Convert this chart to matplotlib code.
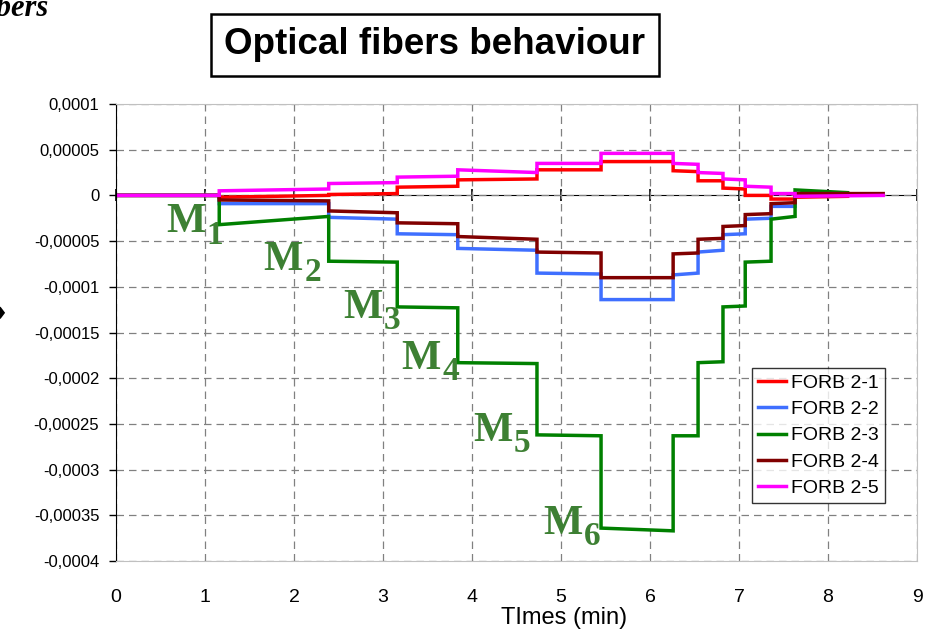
"""
Optical fibers behaviour: strain steps of the FORB 2-x fibers during
the M1..M6 loading sequence (values read off the original chart).
"""

import matplotlib
matplotlib.use("Agg")
import matplotlib.pyplot as plt
from matplotlib.ticker import FuncFormatter, MultipleLocator, NullFormatter

# step boundaries (min); each series has one (start, end) level per step
T_STEPS = [0.0, 1.16, 2.39, 3.16, 3.84, 4.73, 5.45, 6.26, 6.54, 6.82, 7.07, 7.36, 7.63]
T_END_SHORT = 8.22
T_END_LONG = 8.62

# levels in units of 1e-5
FORB_21 = [(0, 0), (-0.2, 0.0), (0.1, 0.2), (0.9, 1.0), (1.7, 1.8), (2.8, 2.8), (3.7, 3.7),
           (2.7, 2.6), (1.6, 1.6), (0.8, 0.7), (0.0, 0.0), (-0.4, -0.4), (-0.2, -0.1)]
FORB_22 = [(0, 0), (-0.9, -0.9), (-2.4, -2.6), (-4.2, -4.3), (-5.8, -6.0), (-8.5, -8.6), (-11.4, -11.4),
           (-8.7, -8.5), (-6.2, -6.0), (-4.3, -4.2), (-2.6, -2.5), (-1.2, -1.2), (0.0, 0.0)]
FORB_23 = [(0, 0), (-3.2, -2.3), (-7.2, -7.3), (-12.2, -12.3), (-18.3, -18.4), (-26.2, -26.3), (-36.4, -36.7),
           (-26.3, -26.3), (-18.3, -18.2), (-12.2, -12.1), (-7.3, -7.2), (-2.6, -2.3), (0.6, 0.3)]
FORB_24 = [(0, 0), (-0.5, -0.6), (-1.7, -1.9), (-3.0, -3.1), (-4.5, -4.8), (-6.2, -6.3), (-9.0, -9.0),
           (-6.4, -6.3), (-4.8, -4.7), (-3.4, -3.3), (-2.1, -2.0), (-0.9, -0.8), (0.2, 0.2)]
FORB_25 = [(0, 0), (0.5, 0.7), (1.3, 1.4), (2.0, 2.1), (2.8, 2.5), (3.5, 3.5), (4.6, 4.6),
           (3.5, 3.4), (2.5, 2.4), (1.8, 1.7), (1.0, 0.9), (0.2, 0.2), (-0.1, 0.0)]

SERIES = [("FORB 2-1", FORB_21, T_END_SHORT, "#ff0000"),
          ("FORB 2-2", FORB_22, T_END_SHORT, "#3f6fff"),
          ("FORB 2-3", FORB_23, T_END_SHORT, "#008000"),
          ("FORB 2-4", FORB_24, T_END_LONG, "#800000"),
          ("FORB 2-5", FORB_25, T_END_LONG, "#ff00ff")]

# load step labels: (subscript, x in min, y in 1e-5)
M_LABELS = [("1", 0.56, -4.05), ("2", 1.66, -8.2), ("3", 2.55, -13.45),
            ("4", 3.21, -19.0), ("5", 4.01, -26.9), ("6", 4.80, -37.0)]
M_COLOR = "#3d8033"


def step_path(levels, t_end):
    bounds = T_STEPS + [t_end]
    xs, ys = [], []
    for i, (a, b) in enumerate(levels):
        xs += [bounds[i], bounds[i + 1]]
        ys += [a * 1e-5, b * 1e-5]
    return xs, ys


def comma_fmt(v, _):
    if abs(v) < 1e-12:
        return "0"
    return f"{v:.5f}".rstrip("0").replace(".", ",")


fig = plt.figure(figsize=(9.34, 6.34), dpi=100)
ax = fig.add_axes([116 / 934, 73 / 634, 801 / 934, 457 / 634])

for name, levels, t_end, color in SERIES:
    xs, ys = step_path(levels, t_end)
    ax.plot(xs, ys, color=color, lw=2.5, label=name, solid_joinstyle="miter")

ax.set_xlim(0, 9)
ax.set_ylim(-0.0004, 0.0001)
ax.xaxis.set_major_locator(MultipleLocator(1))
ax.yaxis.set_major_locator(MultipleLocator(0.00005))
ax.yaxis.set_major_formatter(FuncFormatter(comma_fmt))
ax.grid(True, color="#808080", ls=(0, (6, 4)), lw=0.9)

for side in ("top", "right", "bottom"):
    ax.spines[side].set_color("#c0c0c0")
ax.spines["left"].set_color("black")
ax.tick_params(axis="x", length=0, pad=20, labelsize=14)
ax.tick_params(axis="y", direction="out", length=5, width=1, pad=7, labelsize=12)
for lab in ax.get_xticklabels() + ax.get_yticklabels():
    lab.set_fontfamily("Liberation Sans")

# horizontal axis crosses at zero
zero_ax = ax.secondary_xaxis(0.8)
zero_ax.spines["bottom"].set_color("black")
zero_ax.xaxis.set_major_locator(MultipleLocator(1))
zero_ax.xaxis.set_major_formatter(NullFormatter())
zero_ax.tick_params(direction="inout", length=9, width=1.2,
                    labelbottom=False, labeltop=False)

ax.set_xlabel("TImes (min)", fontsize=17, family="Liberation Sans")
ax.xaxis.set_label_coords(0.56, -0.1)

for sub, x, y in M_LABELS:
    ax.annotate("M", (x, y * 1e-5), fontsize=30, fontweight="bold", family="Liberation Serif",
                color=M_COLOR, ha="left", va="baseline")
    ax.annotate(sub, (x, y * 1e-5), xytext=(29.5, -8), textcoords="offset points",
                fontsize=24, fontweight="bold", family="Liberation Serif",
                color=M_COLOR, ha="left", va="baseline")

leg = ax.legend(loc="lower left", bbox_to_anchor=(636 / 801, 58 / 457),
                prop={"family": "Liberation Sans", "size": 14}, frameon=True, fancybox=False,
                handlelength=1.45, handletextpad=0.25, labelspacing=0.45, borderpad=0.3,
                borderaxespad=0)
leg.get_frame().set_edgecolor("black")
leg.get_frame().set_linewidth(1.0)

fig.text(435 / 934, 1 - 45 / 634, "Optical fibers behaviour", fontsize=26.5, fontweight="bold",
         family="Liberation Sans", ha="center", va="center",
         bbox=dict(boxstyle="square,pad=0.38", fc="white", ec="black", lw=1.8))

# cropped remnants at the edges of the original picture
fig.text(48 / 934, 1 - 16 / 634, "Optical fibers", fontsize=22, fontweight="bold", style="italic",
         family="Liberation Serif", ha="right", va="baseline")
fig.text(0, 1 - 314 / 634, "\u2666", fontsize=12, ha="center", va="center")

fig.savefig("out.png", dpi=100)
